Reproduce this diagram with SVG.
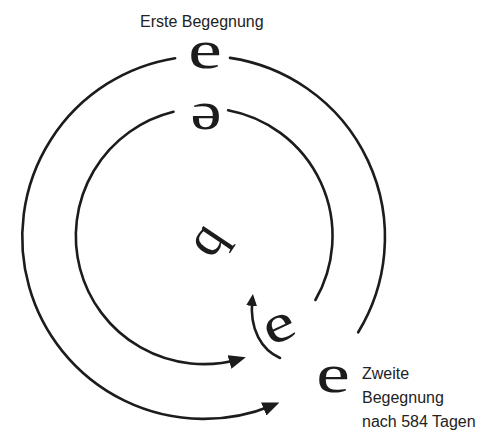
<svg xmlns="http://www.w3.org/2000/svg" width="481" height="431" viewBox="0 0 481 431">
<style>
.arc{fill:none;stroke:#1c1c1c;stroke-width:2.6;stroke-linecap:round}
.g{font-family:"Liberation Serif","DejaVu Serif",serif;font-size:54px;fill:#1c1c1c;text-anchor:middle}
.lbl{font-family:"Liberation Sans","DejaVu Sans",sans-serif;font-size:16px;fill:#222}
</style>
<defs>
<marker id="ah" markerUnits="userSpaceOnUse" markerWidth="17" markerHeight="14" viewBox="0 0 17 14" refX="10" refY="7" orient="auto">
<path d="M0,0 L17,7 L0,14 z" fill="#1c1c1c"/>
</marker>
<marker id="ahs" markerUnits="userSpaceOnUse" markerWidth="12" markerHeight="11" viewBox="0 0 12 11" refX="7" refY="5.5" orient="auto">
<path d="M0,0 L12,5.5 L0,11 z" fill="#1c1c1c"/>
</marker>
</defs>
<rect width="481" height="431" fill="#ffffff"/>
<g id="connectors">
<path class="arc" d="M230,57.9 A181.5,181.5 0 0 1 358.2,332.3"/>
<path class="arc" d="M175.1,58.2 A181.5,181.5 0 1 0 273,405.2" marker-end="url(#ah)"/>
<path class="arc" d="M228.1,110.2 A128,128 0 0 1 315.4,300"/>
<path class="arc" d="M173.5,111.8 A128,128 0 1 0 239.1,359.2" marker-end="url(#ah)"/>
<path class="arc" d="M280,358 C262,350 249,330 252.4,299" marker-end="url(#ahs)"/>
</g>
<g id="erste">
<text class="g" transform="translate(205,68) scale(1.4,1)">e</text>
<text class="lbl" x="140" y="27">Erste Begegnung</text>
</g>
<g id="schwa">
<text class="g" transform="translate(206,129) scale(1.3,1)">ə</text>
</g>
<g id="center">
<text class="g" transform="translate(214,245) rotate(-56)" y="6.5">q</text>
</g>
<g id="mid-e">
<text class="g" transform="translate(285,340) rotate(-25) scale(1.3,1)">e</text>
</g>
<g id="zweite">
<text class="g" transform="translate(333,392) scale(1.4,1)">e</text>
<text class="lbl" x="362" y="379">Zweite</text>
<text class="lbl" x="362" y="403">Begegnung</text>
<text class="lbl" x="362" y="427">nach 584 Tagen</text>
</g>
</svg>
